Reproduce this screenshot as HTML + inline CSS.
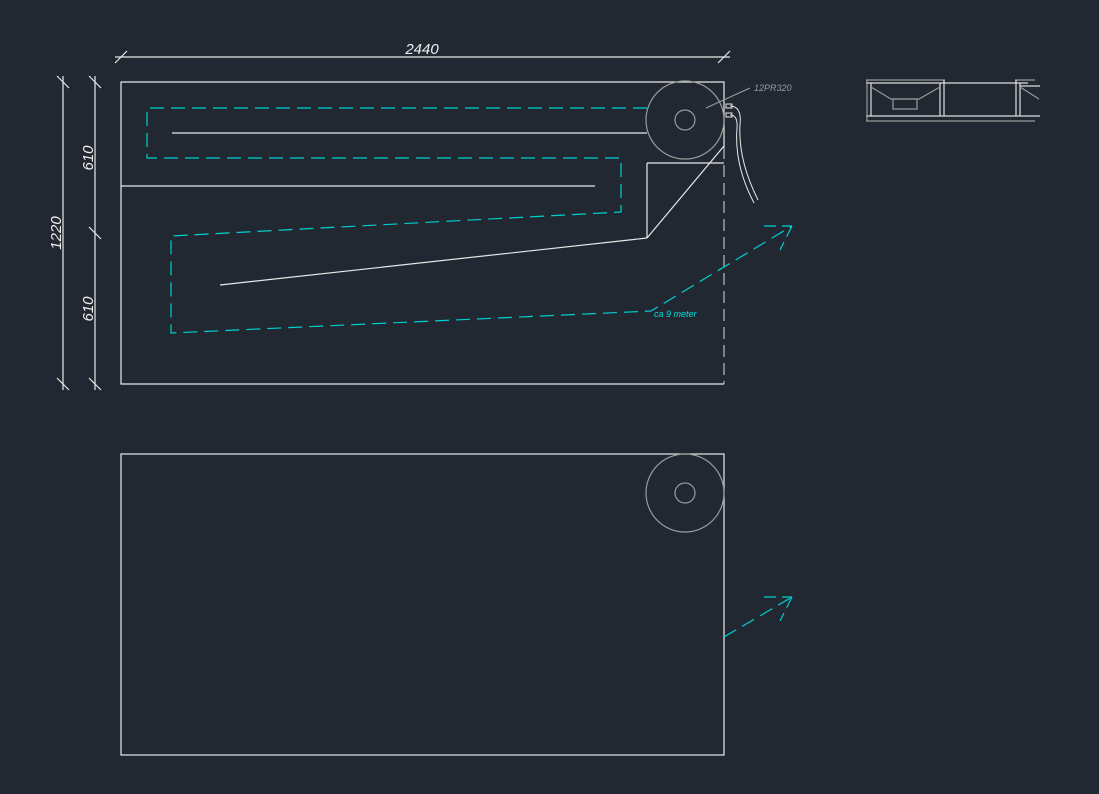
<!DOCTYPE html>
<html><head><style>html,body{margin:0;padding:0;background:#222831;}svg{display:block}</style></head>
<body>
<svg width="1099" height="794" viewBox="0 0 1099 794" xmlns="http://www.w3.org/2000/svg">
<rect width="1099" height="794" fill="#222831"/>
<g stroke="#e8e8e8" stroke-width="1.2" fill="none">
<!-- dimensions -->
<line x1="115" y1="57" x2="730" y2="57"/>
<line x1="115" y1="63" x2="127" y2="51"/><line x1="718" y1="63" x2="730" y2="51"/>
<line x1="63" y1="76" x2="63" y2="390"/>
<line x1="57" y1="76" x2="69" y2="88"/><line x1="57" y1="378" x2="69" y2="390"/>
<line x1="95" y1="76" x2="95" y2="390"/>
<line x1="89" y1="76" x2="101" y2="88"/><line x1="89" y1="227" x2="101" y2="239"/><line x1="89" y1="378" x2="101" y2="390"/>
<!-- top rect -->
<polyline points="724,147 724,82 121,82 121,384 724,384"/>
<line x1="724" y1="147" x2="724" y2="384" stroke="#bbb" stroke-dasharray="12,6"/>
<line x1="172" y1="133" x2="647" y2="133"/>
<line x1="121" y1="186" x2="595" y2="186"/>
<line x1="647" y1="163" x2="724" y2="163"/>
<line x1="647" y1="163" x2="647" y2="238"/>
<line x1="647" y1="238" x2="724" y2="146"/>
<line x1="220" y1="285" x2="647" y2="238"/>
<!-- cables -->
<path d="M730 106 Q742 106 740 125 Q738 160 758 200" stroke-width="1"/>
<path d="M730 115 Q738 115 737 128 Q734 165 754 203" stroke-width="1"/>
<rect x="726" y="104" width="6" height="4" stroke-width="1"/>
<rect x="726" y="113" width="6" height="4" stroke-width="1"/>
<!-- bottom rect -->
<rect x="121" y="454" width="603" height="301"/>
</g>
<g stroke="#9a9a9a" stroke-width="1.2" fill="none">
<circle cx="685" cy="120" r="39"/><circle cx="685" cy="120" r="10"/>
<line x1="706" y1="108" x2="750" y2="88"/>
<circle cx="685" cy="493" r="39"/><circle cx="685" cy="493" r="10"/>
</g>
<g stroke="#00d0d0" stroke-width="1.2" fill="none">
<polyline points="647,108 147,108 147,158 621,158 621,212 171,236 171,333 651,311 792,226" stroke-dasharray="14,7"/>
<line x1="764" y1="226" x2="792" y2="226" stroke-dasharray="12,6"/>
<line x1="792" y1="226" x2="780" y2="250" stroke-dasharray="12,6"/>
<line x1="724" y1="637" x2="792" y2="597" stroke-dasharray="14,7"/>
<line x1="764" y1="597" x2="792" y2="597" stroke-dasharray="12,6"/>
<line x1="792" y1="597" x2="780" y2="621" stroke-dasharray="12,6"/>
</g>
<!-- side detail -->
<g stroke-width="1.2" fill="none">
<line x1="866" y1="80" x2="945" y2="80" stroke="#999"/>
<line x1="866" y1="83" x2="1028" y2="83" stroke="#ddd"/>
<line x1="866" y1="116" x2="1040" y2="116" stroke="#ddd"/>
<line x1="866" y1="121" x2="1035" y2="121" stroke="#999"/>
<line x1="867" y1="80" x2="867" y2="121" stroke="#999"/>
<line x1="871" y1="83" x2="871" y2="116" stroke="#ddd"/>
<line x1="940" y1="83" x2="940" y2="116" stroke="#ddd"/>
<line x1="944" y1="80" x2="944" y2="116" stroke="#ddd"/>
<polyline points="871,87 891,99 919,99 940,87" stroke="#999"/>
<rect x="893" y="99" width="24" height="10" stroke="#999"/>
<line x1="1015" y1="80" x2="1035" y2="80" stroke="#999"/>
<line x1="1016" y1="80" x2="1016" y2="116" stroke="#ddd"/>
<line x1="1020" y1="83" x2="1020" y2="116" stroke="#ddd"/>
<line x1="1020" y1="86" x2="1040" y2="86" stroke="#ddd"/>
<line x1="1020" y1="87" x2="1039" y2="99" stroke="#999"/>
</g>
<g font-family="Liberation Sans, sans-serif" font-style="italic" fill="#f0f0f0">
<text x="422" y="54" font-size="15" text-anchor="middle">2440</text>
<text transform="translate(61,233) rotate(-90)" font-size="15" text-anchor="middle">1220</text>
<text transform="translate(93,158) rotate(-90)" font-size="15" text-anchor="middle">610</text>
<text transform="translate(93,309) rotate(-90)" font-size="15" text-anchor="middle">610</text>
<text x="754" y="91" font-size="9" fill="#9a9a9a">12PR320</text>
<text x="654" y="317" font-size="9" fill="#00e0e0">ca 9 meter</text>
</g>
</svg>
</body></html>
